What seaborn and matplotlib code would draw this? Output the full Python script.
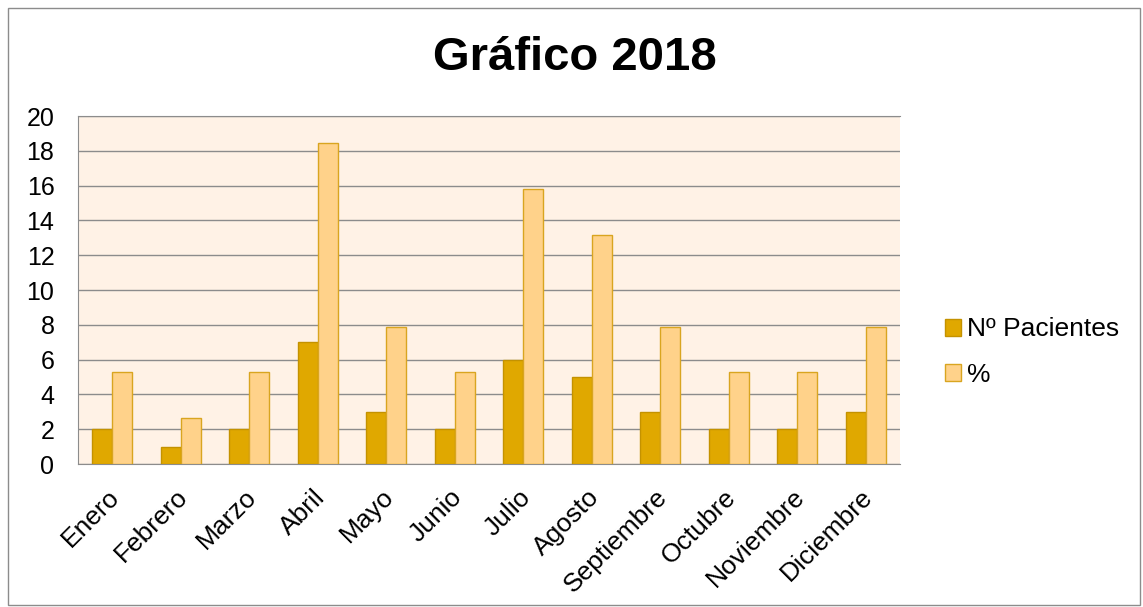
import pandas as pd
import matplotlib.pyplot as plt
import matplotlib.transforms as mtransforms
import seaborn as sns
from matplotlib.patches import Patch

# Datos
meses = ['Enero', 'Febrero', 'Marzo', 'Abril', 'Mayo', 'Junio', 'Julio',
         'Agosto', 'Septiembre', 'Octubre', 'Noviembre', 'Diciembre']
pacientes = [2, 1, 2, 7, 3, 2, 6, 5, 3, 2, 2, 3]
porcentaje = [5.26, 2.63, 5.26, 18.42, 7.89, 5.26, 15.79, 13.16, 7.89, 5.26, 5.26, 7.89]
series = ['Nº Pacientes', '%']

colores = {'Nº Pacientes': '#E0A800', '%': '#FFD28A'}
bordes = {'Nº Pacientes': '#C49200', '%': '#D9A520'}

sns.set_style("white")
plt.rcParams['font.family'] = ['Liberation Sans', 'DejaVu Sans']
plt.rcParams['text.color'] = 'black'
plt.rcParams['xtick.color'] = 'black'
plt.rcParams['ytick.color'] = 'black'

df = pd.DataFrame({
    'Mes': meses * 2,
    'Valor': pacientes + porcentaje,
    'Serie': [series[0]] * len(meses) + [series[1]] * len(meses),
})

fig = plt.figure(figsize=(11.43, 6.07), dpi=100)
ax = fig.add_axes([78 / 1143, 1 - 464 / 607, 822 / 1143, 348 / 607])

sns.barplot(data=df, x='Mes', y='Valor', hue='Serie', palette=colores,
            saturation=1, width=0.58, ax=ax, legend=False, zorder=3)

# bordes de las barras
for cont, s in zip(ax.containers, series):
    for bar in cont:
        bar.set_edgecolor(bordes[s])
        bar.set_linewidth(1.0)

ax.set_facecolor('#FFF2E6')
ax.set_ylim(0, 20)
ax.set_yticks(range(0, 21, 2))
ax.set_xlim(-0.5, len(meses) - 0.5)
ax.yaxis.grid(True, color='#8C8C8C', linewidth=1.0, zorder=0)
ax.set_axisbelow(True)
for lado in ['left', 'bottom', 'top']:
    ax.spines[lado].set_color('#8C8C8C')
ax.spines['right'].set_visible(False)
ax.set_xlabel('')
ax.set_ylabel('')
ax.tick_params(axis='y', labelsize=18, length=0, pad=17)
ax.tick_params(axis='x', labelsize=19, length=0, pad=15)
desplaz = mtransforms.ScaledTranslation(-5 / 100, 0, fig.dpi_scale_trans)
for lbl in ax.get_xticklabels():
    lbl.set_rotation(45)
    lbl.set_ha('right')
    lbl.set_rotation_mode('anchor')
    lbl.set_transform(lbl.get_transform() + desplaz)

fig.text(575 / 1143, 1 - 58 / 607, 'Gráfico 2018', fontsize=34, fontweight='bold',
         ha='center', va='center')

handles = [Patch(facecolor=colores[s], edgecolor=bordes[s], label=s) for s in series]
fig.legend(handles=handles, loc='center left', bbox_to_anchor=(921 / 1143, 1 - 352 / 607),
           frameon=False, fontsize=19, handlelength=0.6, handleheight=0.6,
           handletextpad=0.25, labelspacing=0.8)

# borde exterior del gráfico
fig.patches.append(plt.Rectangle((8 / 1143, 2 / 607), 1132 / 1143, 597 / 607,
                                 transform=fig.transFigure, fill=False,
                                 edgecolor='#8C8C8C', linewidth=1.0))

fig.savefig('out.png', dpi=100)
